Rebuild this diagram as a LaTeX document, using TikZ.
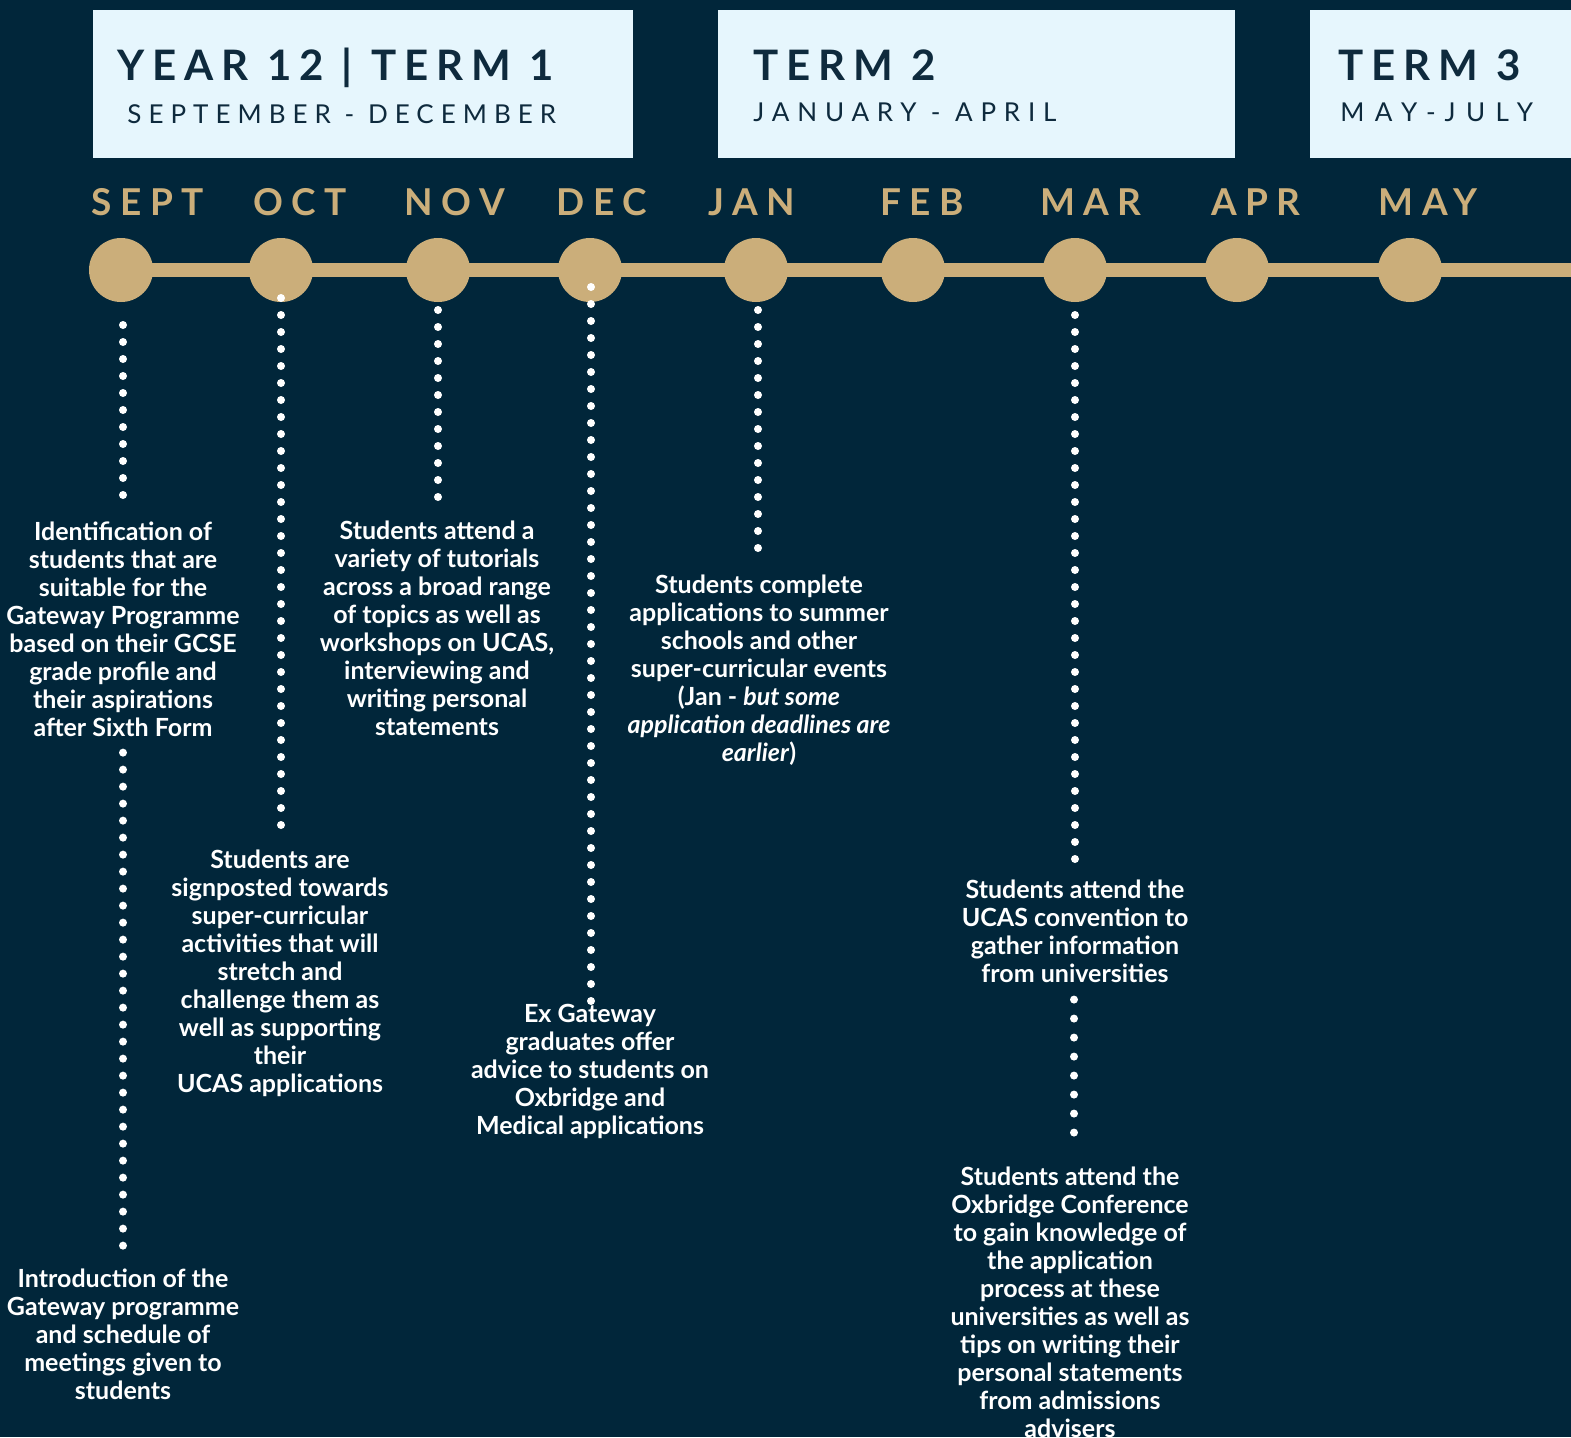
\documentclass[tikz,border=0pt]{standalone}
\usepackage{fontspec}
\setmainfont{Lato}
\usepackage{tikz}
\usetikzlibrary{calc}
\newfontfamily\headfont[LetterSpace=19]{Lato}
\newfontfamily\datefont[LetterSpace=27]{Lato}
\newfontfamily\datefontb[LetterSpace=30]{Lato}
\newfontfamily\datefontc[LetterSpace=40]{Lato}
\newfontfamily\monthfont[LetterSpace=23]{Lato}
\definecolor{navy}{HTML}{01263A}
\definecolor{paleblue}{HTML}{E6F6FD}
\definecolor{gold}{HTML}{CBAE7A}
\definecolor{headtext}{HTML}{0E2A3D}
\tikzset{
  termbox/.style={fill=paleblue},
  termtitle/.style={text=headtext, anchor=base west, inner sep=0pt, font=\headfont\bfseries\fontsize{21}{21}\selectfont},
  termdates/.style={text=headtext, anchor=base west, inner sep=0pt, font=\fontsize{13}{13}\selectfont},
  monthlabel/.style={text=gold, anchor=base, inner sep=0pt, font=\monthfont\bfseries\fontsize{18.5}{18.5}\selectfont},
  monthdot/.style={circle, fill=gold, minimum size=32pt, inner sep=0pt},
  event/.style={text=white, align=center, anchor=north, inner sep=0pt, font=\bfseries\fontsize{12.5}{14}\selectfont},
  dotline/.style={white, line width=4pt, line cap=round, dash pattern=on 0pt off #1},
  dotline/.default=8.5pt,
}

\begin{document}
\begin{tikzpicture}[x=0.5pt, y=-0.5pt]
\useasboundingbox (0,0) rectangle (1571,1437);
\clip (0,0) rectangle (1571,1437);
\fill[navy] (0,0) rectangle (1571,1437);
% term headers
\fill[termbox] (93,10) rectangle (633,158);
\fill[termbox] (718,10) rectangle (1235,158);
\fill[termbox] (1310,10) rectangle (1571,158);
\node[termtitle] (term1) at (117,80) {YEAR 12 | TERM 1};
\node[termdates] (dates1) at (127,123) {\datefont SEPTEMBER - DECEMBER};
\node[termtitle] (term2) at (753,80) {TERM 2};
\node[termdates] (dates2) at (753,121) {\datefontb JANUARY - APRIL};
\node[termtitle] (term3) at (1338,80) {TERM 3};
\node[termdates] (dates3) at (1340,121) {\datefontc MAY-JULY};
% timeline
\draw[gold, line width=7pt] (121,270) -- (1571,270);
\foreach \name/\x/\lbl/\lx in {sep/121/SEPT/148, oct/281/OCT/300, nov/438/NOV/455,
    dec/590/DEC/602, jan/756/JAN/752, feb/913/FEB/922, mar/1075/MAR/1091,
    apr/1237/APR/1256, may/1410/MAY/1428}{
  \node[monthdot] (\name) at (\x,270) {};
  \node[monthlabel] (\name-lbl) at (\lx,215) {\lbl};
}
% events
\node[event] (sepA) at (123,521) {Identification of\\students that are\\suitable for the\\Gateway Programme\\based on their GCSE\\grade profile and\\their aspirations\\after Sixth Form};
\node[event] (sepB) at (123,1268) {Introduction of the\\Gateway programme\\and schedule of\\meetings given to\\students};
\node[event] (octA) at (280,850) {Students are\\signposted towards\\super-curricular\\activities that will\\stretch and\\challenge them as\\well as supporting\\their\\UCAS applications};
\node[event] (novA) at (437,521) {Students attend a\\variety of tutorials\\across a broad range\\of topics as well as\\workshops on UCAS,\\interviewing and\\writing personal\\statements};
\node[event] (decA) at (590,1004) {Ex Gateway\\graduates offer\\advice to students on\\Oxbridge and\\Medical applications};
\node[event] (janA) at (759,575) {Students complete\\applications to summer\\schools and other\\super-curricular events\\(Jan - \textit{but some}\\\textit{application deadlines are}\\\textit{earlier})};
\node[event] (marA) at (1075,880) {Students attend the\\UCAS convention to\\gather information\\from universities};
\node[event] (marB) at (1070,1167) {Students attend the\\Oxbridge Conference\\to gain knowledge of\\the application\\process at these\\universities as well as\\tips on writing their\\personal statements\\from admissions\\advisers};
% dotted connectors
\draw[dotline] ($(sep)+(2,55)$) -- ($(sepA.north)+(0,-26)$);
\draw[dotline] ($(sepA.south)+(0,16)$) -- ($(sepB.north)+(0,-8)$);
\draw[dotline] ($(oct)+(0,28)$) -- ($(octA.north)+(1,-16)$);
\draw[dotline] ($(nov)+(0,40)$) -- ($(novA.north)+(1,-24)$);
\draw[dotline] ($(dec)+(1,17)$) -- ($(decA.north)+(1,-2)$);
\draw[dotline] ($(jan)+(2,40)$) -- ($(janA.north)+(-1,-18)$);
\draw[dotline] ($(mar)+(0,45)$) -- ($(marA.north)+(0,-8)$);
\draw[dotline=9.5pt] ($(marA.south)+(-1,16)$) -- ($(marB.north)+(4,-30)$);
\end{tikzpicture}
\end{document}
